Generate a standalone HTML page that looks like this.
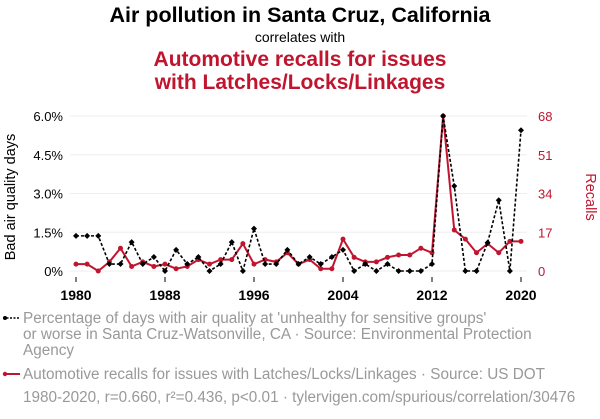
<!DOCTYPE html>
<html><head><meta charset="utf-8"><style>
body{margin:0;width:600px;height:414px;background:#fff;font-family:"Liberation Sans",sans-serif;overflow:hidden}
svg text{font-family:"Liberation Sans",sans-serif}
</style></head><body>
<svg id="c" width="600" height="414">
<text x="300" y="22" text-anchor="middle" font-size="21.5" font-weight="bold" fill="#000">Air pollution in Santa Cruz, California</text>
<text x="300" y="42" text-anchor="middle" font-size="14" fill="#000">correlates with</text>
<text x="300" y="66" text-anchor="middle" font-size="21" font-weight="bold" fill="#c0152f">Automotive recalls for issues</text>
<text x="300" y="89" text-anchor="middle" font-size="21" font-weight="bold" fill="#c0152f">with Latches/Locks/Linkages</text>
<g id="grid"></g><g id="axes"></g><g id="marks"></g>
<text transform="translate(15,197) rotate(-90)" text-anchor="middle" font-size="14.5" fill="#000">Bad air quality days</text>
<text transform="translate(586,197) rotate(90)" text-anchor="middle" font-size="14.5" fill="#c0152f">Recalls</text>
<g>
<line x1="3" y1="318" x2="20" y2="318" stroke="#000" stroke-width="1.5" stroke-dasharray="2,1.5"/><circle cx="5" cy="318" r="2" fill="#000"/>
<text x="23" y="323" font-size="15.3" fill="#999">Percentage of days with air quality at 'unhealthy for sensitive groups'</text>
<text x="23" y="339" font-size="15.3" fill="#999">or worse in Santa Cruz-Watsonville, CA · Source: Environmental Protection</text>
<text x="23" y="355" font-size="15.3" fill="#999">Agency</text></g>
<g>
<line x1="3" y1="374" x2="20" y2="374" stroke="#c0152f" stroke-width="2"/><circle cx="5" cy="374" r="2.2" fill="#c0152f"/>
<text x="23" y="379" font-size="15.3" fill="#999">Automotive recalls for issues with Latches/Locks/Linkages · Source: US DOT</text></g>
<text x="23" y="402" font-size="15.3" fill="#999">1980-2020, r=0.660, r²=0.436, p&lt;0.01 · tylervigen.com/spurious/correlation/30476</text>
</svg>
<script>
const years=[];for(let y=1980;y<=2020;y++)years.push(y);
const pollution=[1.36,1.36,1.36,0.27,0.27,1.12,0.27,0.54,0,0.82,0.27,0.54,0,0.27,1.12,0,1.64,0.27,0.27,0.82,0.27,0.54,0.27,0.54,0.82,0,0.27,0,0.27,0,0,0,0.27,6.0,3.29,0,0,1.1,2.74,0,5.45];
const recalls=[3,3,0,4,10,2,4,2,3,1,2,5,3,5,5,12,3,5,4,8,3,5,1,1,14,6,4,4,6,7,7,10,8,68,18,14,8,12,8,13,13];
const leftTicks=[0,1.5,3,4.5,6];const leftLabels=["0%","1.5%","3.0%","4.5%","6.0%"];
const rightTicks=[0,17,34,51,68];
const xTicks=[1980,1988,1996,2004,2012,2020];
const NS="http://www.w3.org/2000/svg";
const X=y=>76+(y-1980)*(445/40);
const YL=v=>271-v*(155/6);
const YR=v=>271-v*(155/68);
function mk(p,t,a){const e=document.createElementNS(NS,t);for(const k in a)e.setAttribute(k,a[k]);document.getElementById(p).appendChild(e);return e;}
leftTicks.forEach((v,i)=>{
 const g=mk('grid','line',{x1:70,x2:527,y1:YL(v),y2:YL(v),stroke:'#eee','stroke-width':1});
 
 
 const t=mk('axes','text',{x:63,y:YL(v)+5,'text-anchor':'end','font-size':13,fill:'#000'});t.textContent=leftLabels[i];
 
 
});
rightTicks.forEach(v=>{
 const t=mk('axes','text',{x:538,y:YR(v)+5,'font-size':13,fill:'#c0152f'});t.textContent=v;
 
 
});
xTicks.forEach(v=>{
 const l=mk('axes','line',{x1:X(v),x2:X(v),y1:277,y2:282,stroke:'#000'});
 
 
 const t=mk('axes','text',{x:X(v),y:300,'text-anchor':'middle','font-size':14,'font-weight':'bold',fill:'#000'});t.textContent=v;
 
 
});
const rl=mk('marks','polyline',{points:years.map((y,i)=>X(y)+','+YR(recalls[i])).join(' '),fill:'none',stroke:'#c0152f','stroke-width':2});


years.forEach((y,i)=>{const c=mk('marks','circle',{cx:X(y),cy:YR(recalls[i]),r:2.5,fill:'#c0152f'});
 
 });
const pl=mk('marks','polyline',{points:years.map((y,i)=>X(y)+','+YL(pollution[i])).join(' '),fill:'none',stroke:'#000','stroke-width':1.6,'stroke-dasharray':'3,2'});


years.forEach((y,i)=>{const x=X(y),yy=YL(pollution[i]);const c=mk('marks','polygon',{points:`${x},${yy-3} ${x+3},${yy} ${x},${yy+3} ${x-3},${yy}`,fill:'#000'});
 
 });
</script>
</body></html>
